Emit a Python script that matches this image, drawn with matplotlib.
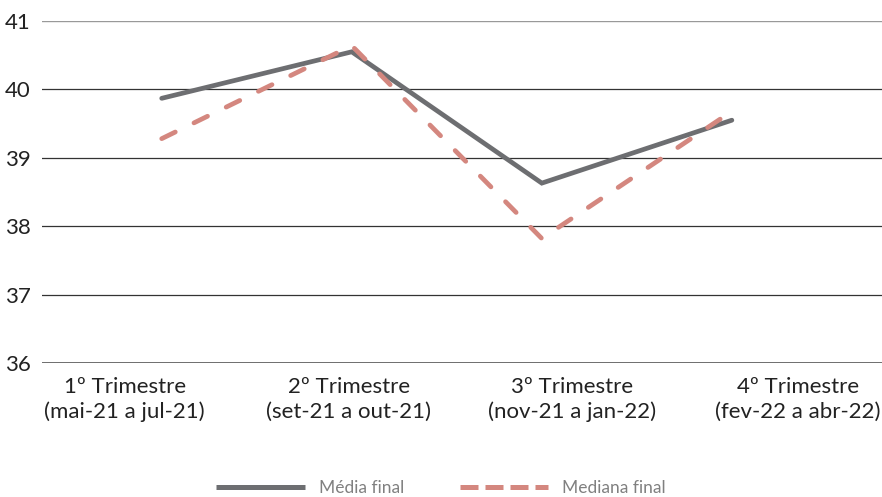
import matplotlib
matplotlib.use('Agg')
import matplotlib.pyplot as plt
from matplotlib.lines import Line2D

# Valores trimestrais
trimestres = ['1º Trimestre\n(mai-21 a jul-21)', '2º Trimestre\n(set-21 a out-21)',
              '3º Trimestre\n(nov-21 a jan-22)', '4º Trimestre\n(fev-22 a abr-22)']
media_final = [39.87, 40.55, 38.63, 39.55]
mediana_final = [39.28, 40.64, 37.82, 39.68]

# posição dos rótulos do eixo x (deslocados em relação aos pontos)
pos_rotulos = [-0.195, 0.984, 2.158, 3.347]

plt.rcParams['font.family'] = ['Lato', 'DejaVu Sans']

fig = plt.figure(figsize=(8.82, 4.97), dpi=100)
ax = fig.add_axes([0.0476, 0.2696, 0.9524, 0.6881])

x = range(len(trimestres))
ax.plot(x, media_final, color='#6d6e71', lw=3.4, solid_capstyle='round',
        solid_joinstyle='miter')
ax.plot(x, mediana_final, color='#d4877f', lw=3.4, dashes=(3.2, 4.4),
        dash_capstyle='round')

ax.set_ylim(36, 41)
ax.set_xlim(-0.63, 3.79)
ax.set_yticks([36, 37, 38, 39, 40, 41])
ax.set_xticks(pos_rotulos)
ax.set_xticklabels(trimestres, fontsize=16, color='#222222', linespacing=1.3)
ax.tick_params(axis='y', length=0, pad=8, labelsize=16, labelcolor='#222222')
ax.tick_params(axis='x', length=0, pad=10)

# Linhas de grade horizontais
for v in [37, 38, 39, 40]:
    ax.axhline(v, color='#333333', lw=0.9, zorder=0)
ax.axhline(41, color='#999999', lw=1.0, zorder=0)
ax.axhline(36, color='#555555', lw=1.2, zorder=0)

for s in ax.spines.values():
    s.set_visible(False)

handles = [Line2D([], [], color='#6d6e71', lw=3.6, solid_capstyle='butt'),
           Line2D([], [], color='#d4877f', lw=3.6, dashes=(3.6, 1.4), dash_capstyle='butt')]
leg = fig.legend(handles, ['Média final', 'Mediana final'], loc='center',
                 bbox_to_anchor=(0.5, 0.018), ncol=2, frameon=False,
                 fontsize=12.5, handlelength=5.1, columnspacing=3.2, handletextpad=0.8)
for t in leg.get_texts():
    t.set_color('#808080')

fig.savefig('out.png', dpi=100)
